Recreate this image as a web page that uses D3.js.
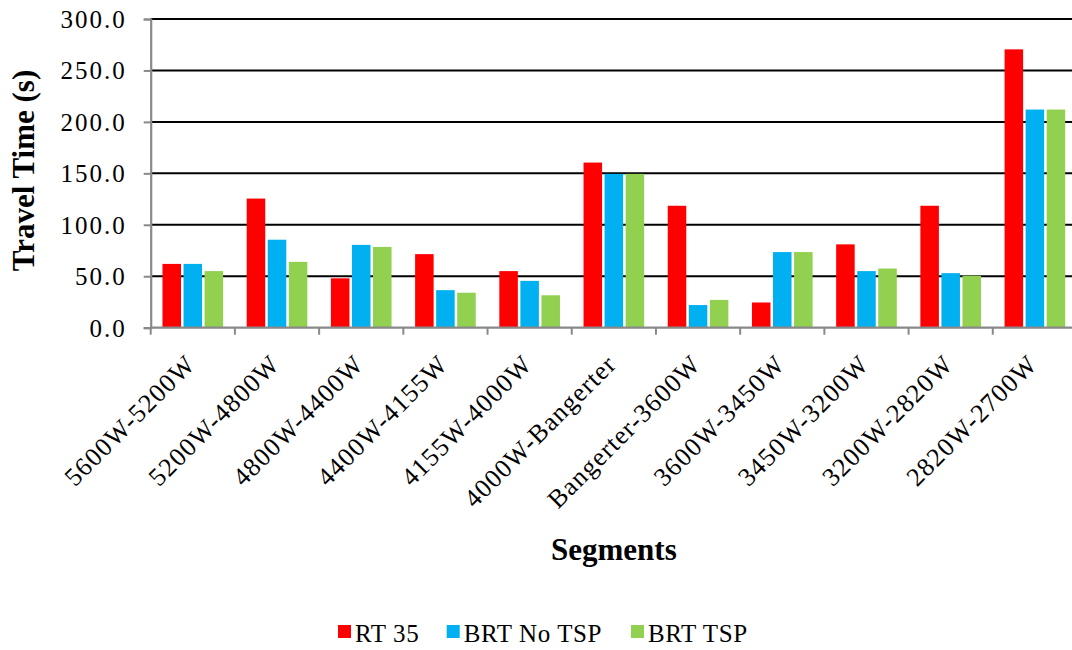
<!DOCTYPE html>
<html>
<head>
<meta charset="utf-8">
<script src="https://cdn.jsdelivr.net/npm/d3@7/dist/d3.min.js"></script>
<style>
  html, body { margin: 0; padding: 0; background: #fff; }
  svg { display: block; }
  text { font-family: "Liberation Serif", "Times New Roman", serif; fill: #000; }
</style>
</head>
<body>
<svg id="chart" width="1072" height="650"></svg>
<script>
// Travel time per corridor segment, by service scenario
const segments = [
  "5600W-5200W", "5200W-4800W", "4800W-4400W", "4400W-4155W", "4155W-4000W",
  "4000W-Bangerter", "Bangerter-3600W", "3600W-3450W", "3450W-3200W",
  "3200W-2820W", "2820W-2700W"
];
const seriesNames = ["RT 35", "BRT No TSP", "BRT TSP"];
const seriesColors = ["#FF0000", "#00B0F0", "#92D050"];
const rt35     = [62, 125.5, 48, 71.5, 55, 160.5, 118.5, 24.5, 81, 118.5, 270.5];
const brtNoTsp = [62, 85.5, 80.5, 36.5, 45.5, 149.5, 22, 73.5, 55, 53, 212];
const brtTsp   = [55, 64, 78.5, 34, 31.5, 149.5, 27, 73.5, 57.5, 50.5, 212];
const yTicks   = [0, 50, 100, 150, 200, 250, 300];

const seriesValues = [rt35, brtNoTsp, brtTsp];

const svg = d3.select("#chart");
const plot = { left: 150.7, right: 1077, top: 19, bottom: 327.7 };

const x = d3.scaleBand()
  .domain(segments)
  .range([plot.left, plot.right])
  .paddingInner(0)
  .paddingOuter(0);

const xs = d3.scaleBand()
  .domain(seriesNames)
  .range([0, x.bandwidth()])
  .paddingInner(0.12)
  .paddingOuter(0.56);

const y = d3.scaleLinear()
  .domain([0, 300])
  .range([plot.bottom, plot.top]);

// horizontal gridlines
svg.append("g")
  .selectAll("line")
  .data(yTicks.filter(d => d > 0))
  .join("line")
  .attr("x1", plot.left)
  .attr("x2", plot.right)
  .attr("y1", d => y(d))
  .attr("y2", d => y(d))
  .attr("stroke", "#000")
  .attr("stroke-width", 2);

// bars
const groups = svg.append("g")
  .selectAll("g")
  .data(segments)
  .join("g")
  .attr("transform", d => `translate(${x(d)},0)`);

groups.selectAll("rect")
  .data((d, i) => seriesNames.map((s, k) => ({ s, k, v: seriesValues[k][i] })))
  .join("rect")
  .attr("x", d => xs(d.s))
  .attr("width", xs.bandwidth())
  .attr("y", d => y(d.v))
  .attr("height", d => y(0) - y(d.v))
  .attr("fill", d => seriesColors[d.k]);

// y axis
const yAxis = svg.append("g")
  .attr("transform", `translate(${plot.left},0)`)
  .call(d3.axisLeft(y).tickValues(yTicks).tickSize(7).tickPadding(17)
    .tickFormat(d3.format(".1f")));
yAxis.select(".domain").attr("stroke", "#898989").attr("stroke-width", 2.2);
yAxis.selectAll(".tick line").attr("stroke", "#898989").attr("stroke-width", 2);
yAxis.selectAll(".tick text")
  .attr("font-size", 25)
  .attr("letter-spacing", 2)
  .attr("dy", "0.34em")
  .style("font-family", '"Liberation Serif", serif');

// x axis: boundaries between categories carry the ticks
const xAxis = svg.append("g")
  .attr("transform", `translate(0,${plot.bottom})`);
xAxis.append("line")
  .attr("x1", plot.left).attr("x2", plot.right)
  .attr("stroke", "#898989").attr("stroke-width", 2.2);
xAxis.selectAll(".bt")
  .data(segments)
  .join("line")
  .attr("class", "bt")
  .attr("x1", d => x(d)).attr("x2", d => x(d))
  .attr("y1", 0).attr("y2", 7)
  .attr("stroke", "#898989").attr("stroke-width", 2);
xAxis.selectAll(".lbl")
  .data(segments)
  .join("text")
  .attr("class", "lbl")
  .attr("text-anchor", "end")
  .attr("font-size", 26)
  .attr("letter-spacing", 1.1)
  .attr("transform", d => `translate(${x(d) + x.bandwidth() / 2 + 4},${38}) rotate(-45)`)
  .text(d => d);

// axis titles
svg.append("text")
  .attr("text-anchor", "middle")
  .attr("font-size", 31)
  .attr("font-weight", "bold")
  .attr("transform", `translate(34,${(68 + 273) / 2}) rotate(-90)`)
  .text("Travel Time (s)");

svg.append("text")
  .attr("text-anchor", "middle")
  .attr("font-size", 31)
  .attr("font-weight", "bold")
  .attr("x", (plot.left + plot.right) / 2)
  .attr("y", 560)
  .text("Segments");

// legend
const legendX = [338, 446.7, 631];
const legend = svg.append("g");
const items = legend.selectAll("g")
  .data(seriesNames)
  .join("g")
  .attr("transform", (d, i) => `translate(${legendX[i]},0)`);
items.append("rect")
  .attr("x", 0).attr("y", 625)
  .attr("width", 13).attr("height", 13)
  .attr("fill", (d, i) => seriesColors[i]);
items.append("text")
  .attr("x", 17).attr("y", 642)
  .attr("font-size", 25)
  .attr("letter-spacing", 0.6)
  .text(d => d);
</script>
</body>
</html>
